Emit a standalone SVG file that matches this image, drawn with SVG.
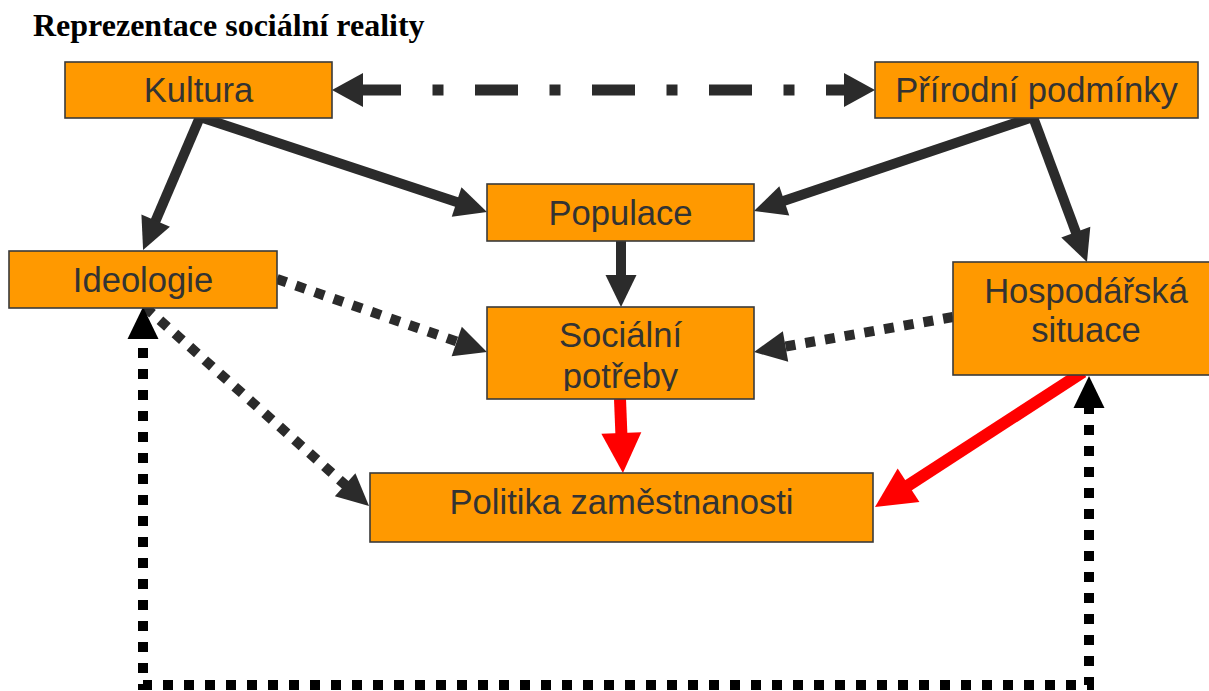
<svg xmlns="http://www.w3.org/2000/svg" width="1209" height="691" viewBox="0 0 1209 691">
<style>
.box{fill:#FF9900;stroke:#3a3a3a;stroke-width:1.6}
.lbl{font-family:"Liberation Sans",Arial,sans-serif;font-size:34.6px;fill:#333333;text-anchor:middle}
.title{font-family:"Liberation Serif","Times New Roman",serif;font-size:32px;font-weight:bold;fill:#000}
.solid{fill:none;stroke:#2b2b2b;stroke-width:10}
.dot{fill:none;stroke:#2b2b2b;stroke-width:10;stroke-dasharray:10 10}
.red{fill:none;stroke:#FF0000;stroke-width:12}
.loop{fill:none;stroke:#000;stroke-width:10;stroke-dasharray:10 11}
.dd{fill:none;stroke:#2b2b2b;stroke-width:11;stroke-dasharray:43 31.5 11 31.5}
.hdd{fill:#2b2b2b}
</style>
<defs>
<marker id="hd" markerUnits="userSpaceOnUse" markerWidth="40" markerHeight="40" viewBox="0 -20 40 40" refX="4" refY="0" orient="auto-start-reverse" overflow="visible"><path d="M0,-15.5 L32,0 L0,15.5 z" fill="#2b2b2b"/></marker>
<marker id="hb" markerUnits="userSpaceOnUse" markerWidth="40" markerHeight="40" viewBox="0 -20 40 40" refX="4" refY="0" orient="auto-start-reverse" overflow="visible"><path d="M0,-15.5 L32,0 L0,15.5 z" fill="#000"/></marker>
<marker id="hr" markerUnits="userSpaceOnUse" markerWidth="50" markerHeight="50" viewBox="0 -25 50 50" refX="4" refY="0" orient="auto-start-reverse" overflow="visible"><path d="M0,-20 L40,0 L0,20 z" fill="#FF0000"/></marker>
<clipPath id="clipSoc"><rect x="487" y="300" width="267" height="91"/></clipPath>
</defs>

<text class="title" x="33" y="36">Reprezentace sociální reality</text>

<g id="connectors">
<path class="dd" d="M358,90 L846,90"/>
<polygon class="hdd" points="332,90 363,73 363,107"/>
<polygon class="hdd" points="875,90 844,73 844,107"/>
<path class="solid" d="M200,117 L154.1,224.3" marker-end="url(#hd)"/>
<path class="solid" d="M200,117 L460.4,203.3" marker-end="url(#hd)"/>
<path class="solid" d="M1033,117 L780.5,202.1" marker-end="url(#hd)"/>
<path class="solid" d="M1033,117 L1077.2,235.8" marker-end="url(#hd)"/>
<path class="solid" d="M621,241 L621,279" marker-end="url(#hd)"/>
<path class="dot" d="M277,279 L460.5,342.8" marker-end="url(#hd)"/>
<path class="dot" d="M145,307 L348.1,487.4" marker-end="url(#hd)"/>
<path class="dot" d="M953,317 L781.6,347.2" marker-end="url(#hd)"/>
<path class="red" d="M620,399 L621.5,437" marker-end="url(#hr)"/>
<path class="red" d="M1083,372 L905.2,487.4" marker-end="url(#hr)"/>
<path class="loop" d="M1089,404 L1089,685 L143,685 L143,335" marker-start="url(#hb)" marker-end="url(#hb)"/>
</g>

<g id="kultura">
<rect class="box" x="65" y="62" width="267" height="56"/>
<text class="lbl" x="198.5" y="102">Kultura</text>
</g>
<g id="prirodni">
<rect class="box" x="875" y="62" width="323" height="56"/>
<text class="lbl" x="1036.5" y="102">Přírodní podmínky</text>
</g>
<g id="populace">
<rect class="box" x="487" y="184" width="267" height="57"/>
<text class="lbl" x="620.5" y="225">Populace</text>
</g>
<g id="ideologie">
<rect class="box" x="9" y="251" width="268" height="57"/>
<text class="lbl" x="143" y="292">Ideologie</text>
</g>
<g id="socialni">
<rect class="box" x="487" y="307" width="267" height="92"/>
<g clip-path="url(#clipSoc)">
<text class="lbl" x="620.5" y="347">Sociální</text>
<text class="lbl" x="620.5" y="388">potřeby</text>
</g>
</g>
<g id="hospodarska">
<rect class="box" x="953" y="262" width="266" height="113"/>
<text class="lbl" x="1086" y="303">Hospodářská</text>
<text class="lbl" x="1086" y="342">situace</text>
</g>
<g id="politika">
<rect class="box" x="370" y="473" width="503" height="69"/>
<text class="lbl" x="621.5" y="514">Politika zaměstnanosti</text>
</g>
</svg>
